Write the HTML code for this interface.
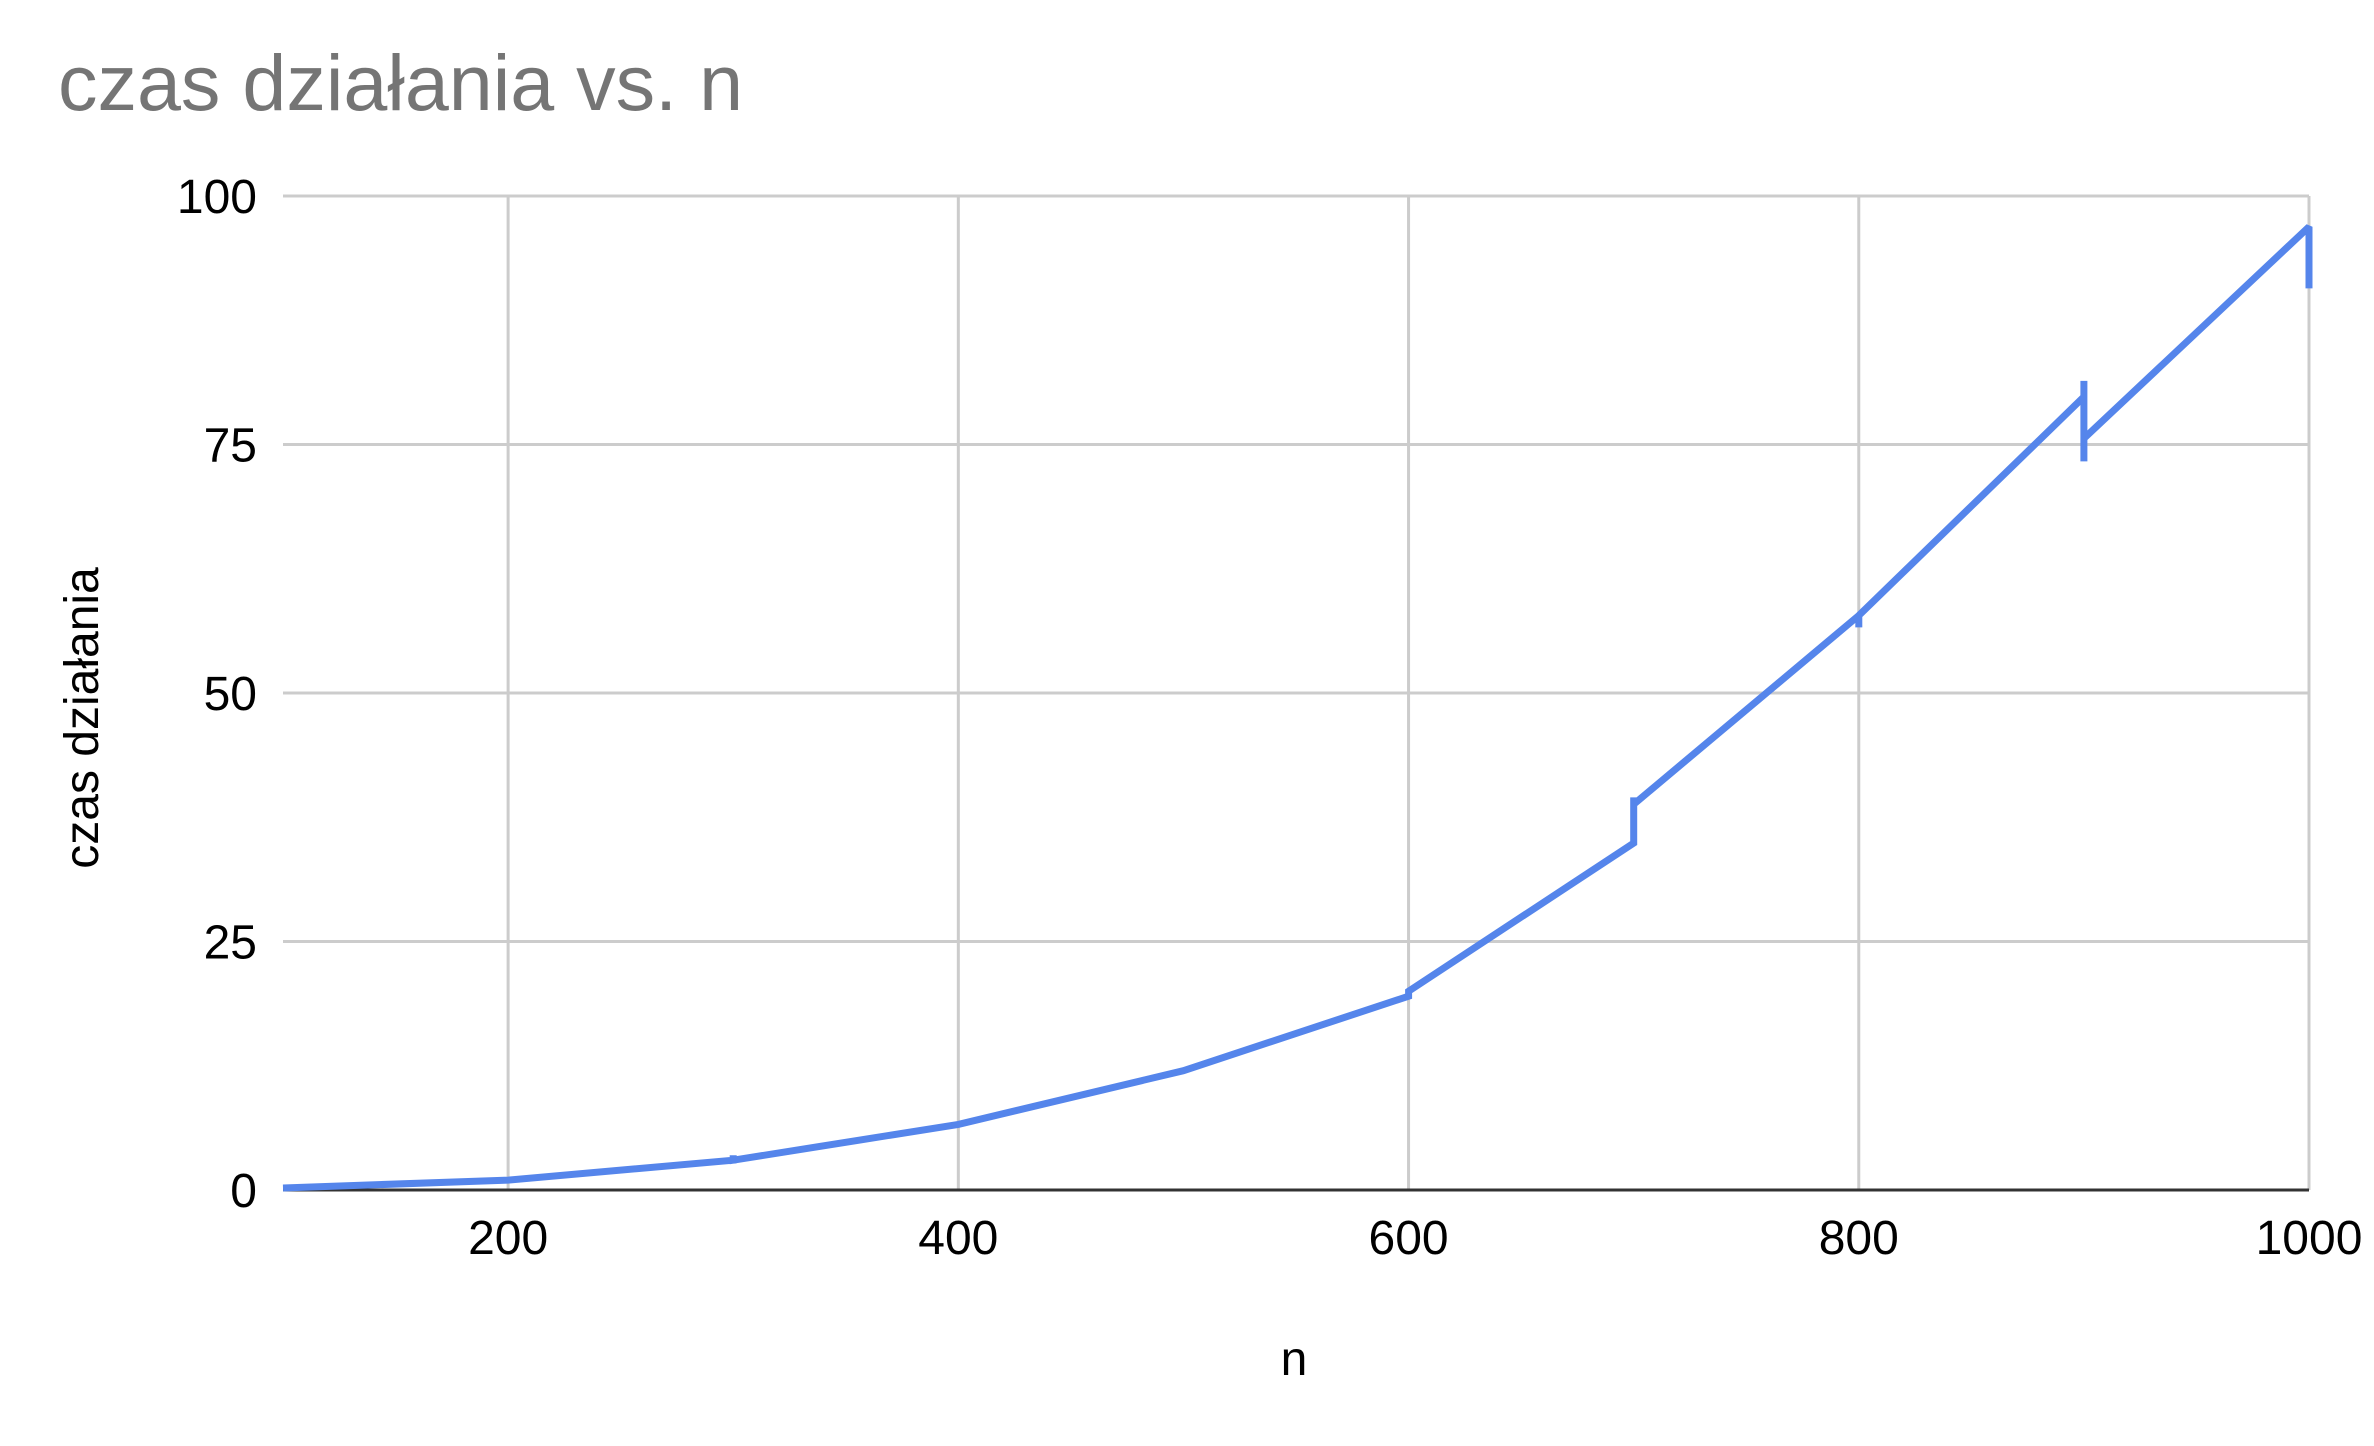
<!DOCTYPE html>
<html><head><meta charset="utf-8"><style>
html,body{margin:0;padding:0;background:#fff;}
svg{display:block;font-family:"Liberation Sans",Arial,sans-serif;}
</style></head><body>
<svg id="chart" width="2374" height="1446" viewBox="0 0 2374 1446" xmlns="http://www.w3.org/2000/svg">
<rect width="2374" height="1446" fill="#fff"/>
<text x="58" y="110" font-size="79" fill="#757575">czas działania vs. n</text>
<g id="grid"></g>
<g id="yticks"></g>
<g id="xticks"></g>
<g id="series"></g>
<text x="98" y="718" font-size="48" fill="#000" text-anchor="middle" transform="rotate(-90 98 718)">czas działania</text>
<text x="1294" y="1375" font-size="48" fill="#000" text-anchor="middle">n</text>
</svg>
<script>
const xTicks = [200, 400, 600, 800, 1000];
const yTicks = [0, 25, 50, 75, 100];
const nValues = [100, 200, 300, 300, 300, 400, 500, 600, 600, 700, 700, 700, 800, 800, 800, 900, 900, 900, 900, 1000, 1000];
const timeValues = [0.2, 1.0, 3.0, 3.5, 3.0, 6.6, 12.0, 19.5, 20.0, 34.9, 39.5, 38.8, 57.8, 56.6, 57.8, 79.8, 81.4, 73.3, 75.6, 96.9, 90.7];

const X0 = 283, X1 = 2309, Y0 = 1190, Y1 = 196;
const xMin = 100, xMax = 1000, yMin = 0, yMax = 100;
function xs(v){ return X0 + (v - xMin) / (xMax - xMin) * (X1 - X0); }
function ys(v){ return Y0 - (v - yMin) / (yMax - yMin) * (Y0 - Y1); }
const NS = "http://www.w3.org/2000/svg";
function mk(tag, attrs, parent){ const e = document.createElementNS(NS, tag); for (const k in attrs) e.setAttribute(k, attrs[k]); parent.appendChild(e); return e; }

const grid = document.getElementById('grid');
yTicks.forEach(v => {
  if (v === 0) return;
  const l = mk('line', {x1: X0, x2: X1, y1: ys(v), y2: ys(v), stroke: '#cccccc', 'stroke-width': 3}, grid);
  
  
});
xTicks.forEach(v => {
  const l = mk('line', {x1: xs(v), x2: xs(v), y1: Y1, y2: Y0, stroke: '#cccccc', 'stroke-width': 3}, grid);
  
  
});
const base = mk('line', {x1: X0, x2: X1, y1: Y0, y2: Y0, stroke: '#333333', 'stroke-width': 3}, grid);



const yt = document.getElementById('yticks');
yTicks.forEach(v => {
  const t = mk('text', {x: 257, y: ys(v) + 17, 'font-size': 48, 'text-anchor': 'end', fill: '#000'}, yt);
  t.textContent = v;
  
  
});
const xt = document.getElementById('xticks');
xTicks.forEach(v => {
  const t = mk('text', {x: xs(v), y: 1254, 'font-size': 48, 'text-anchor': 'middle', fill: '#000'}, xt);
  t.textContent = v;
  
  
});

const series = document.getElementById('series');
const pts = nValues.map((n, i) => xs(n).toFixed(1) + ',' + ys(timeValues[i]).toFixed(1)).join(' ');
const line = mk('polyline', {points: pts, fill: 'none', stroke: '#5585eb', 'stroke-width': 7, 'stroke-linejoin': 'miter', 'stroke-miterlimit': 2}, series);


</script>
</body></html>
